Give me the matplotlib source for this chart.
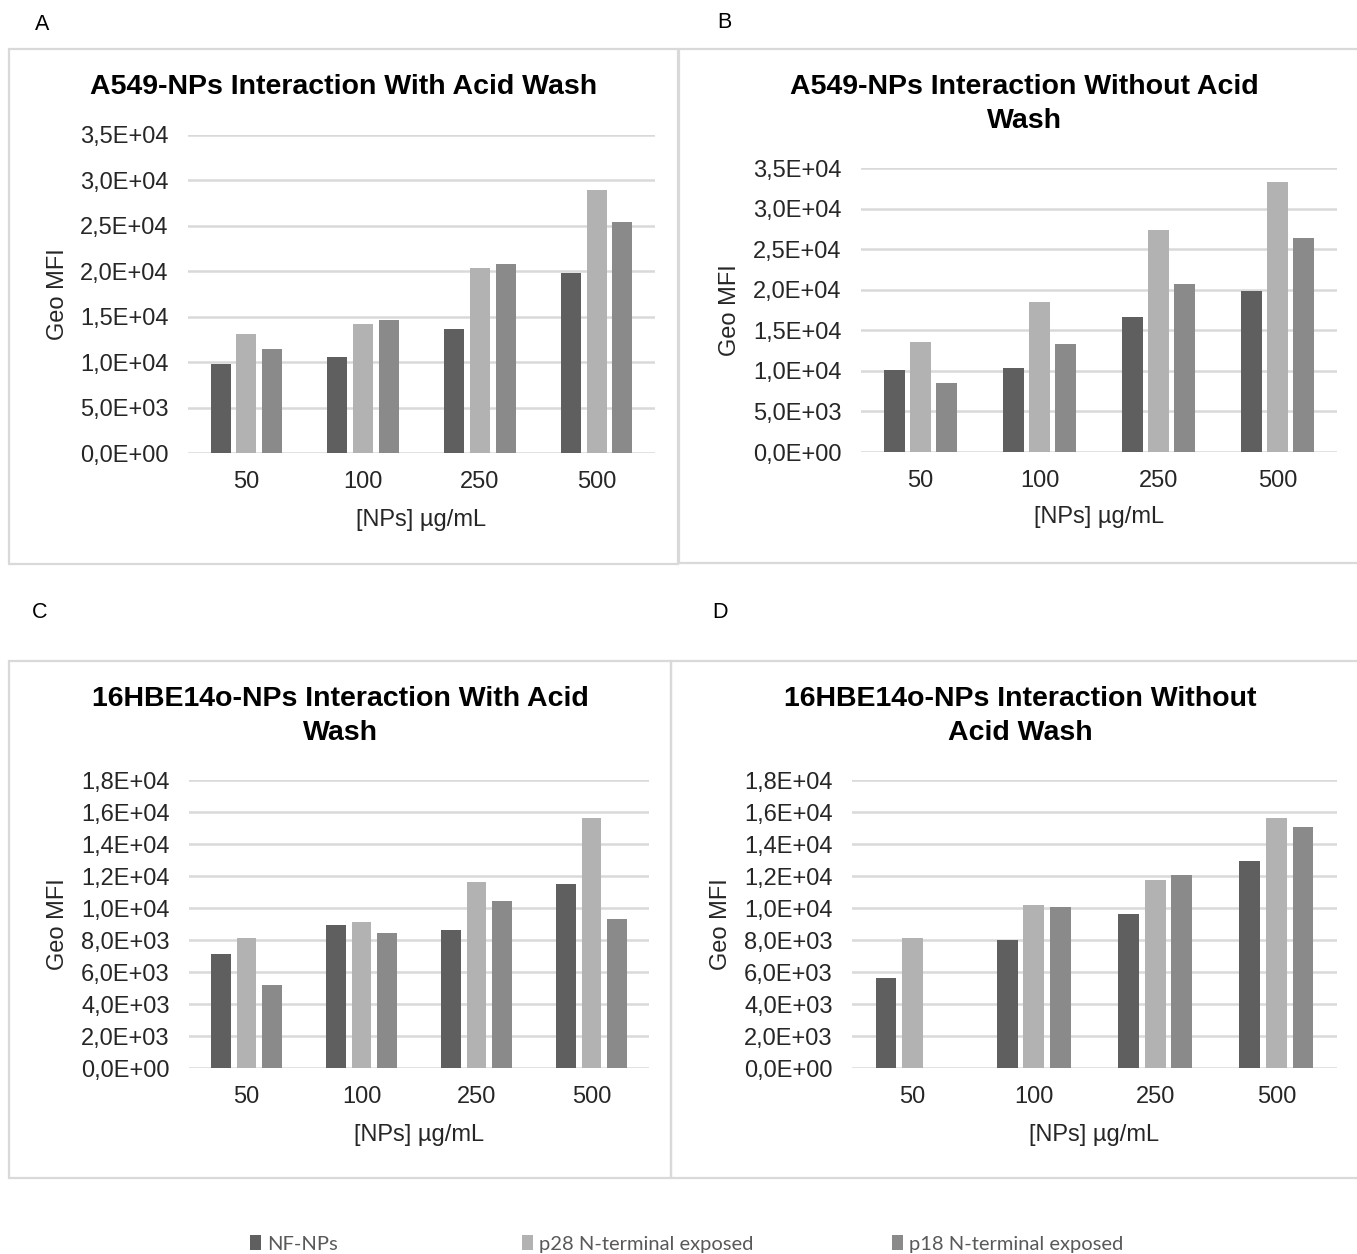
import matplotlib
matplotlib.use("Agg")
import matplotlib.pyplot as plt
from matplotlib.patches import Rectangle
import numpy as np

plt.rcParams['font.family'] = ['Liberation Sans', 'DejaVu Sans']

categories = ["50", "100", "250", "500"]
series_names = ["NF-NPs", "p28 N-terminal exposed", "p18 N-terminal exposed"]
colors = ["#5f5f5f", "#b2b2b2", "#8a8a8a"]

# Panel A: A549 with acid wash
a_nf = [9800, 10600, 13600, 19800]
a_p28 = [13150, 14200, 20400, 29000]
a_p18 = [11450, 14600, 20800, 25400]
# Panel B: A549 without acid wash
b_nf = [10100, 10400, 16600, 19800]
b_p28 = [13600, 18500, 27400, 33300]
b_p18 = [8500, 13300, 20700, 26400]
# Panel C: 16HBE14o with acid wash
c_nf = [7100, 8950, 8600, 11500]
c_p28 = [8150, 9100, 11650, 15600]
c_p18 = [5200, 8450, 10450, 9300]
# Panel D: 16HBE14o without acid wash
d_nf = [5650, 8000, 9600, 12950]
d_p28 = [8150, 10200, 11750, 15600]
d_p18 = [0, 10050, 12050, 15050]

a_ticks = [0, 5000, 10000, 15000, 20000, 25000, 30000, 35000]
a_ticklabels = ["0,0E+00", "5,0E+03", "1,0E+04", "1,5E+04", "2,0E+04", "2,5E+04", "3,0E+04", "3,5E+04"]
c_ticks = [0, 2000, 4000, 6000, 8000, 10000, 12000, 14000, 16000, 18000]
c_ticklabels = ["0,0E+00", "2,0E+03", "4,0E+03", "6,0E+03", "8,0E+03", "1,0E+04",
                "1,2E+04", "1,4E+04", "1,6E+04", "1,8E+04"]

W, H = 1357, 1254
fig = plt.figure(figsize=(W / 100, H / 100), dpi=100)
fig.patch.set_facecolor("white")

GRID = "#d9d9d9"
TXT = "#262626"
FS = 17


def rect(x0, x1, ytop, ybot):
    return [x0 / W, 1 - ybot / H, (x1 - x0) / W, (ybot - ytop) / H]


def frame(x0, x1, ytop, ybot):
    fig.patches.append(Rectangle((x0 / W, 1 - ybot / H), (x1 - x0) / W, (ybot - ytop) / H,
                                 transform=fig.transFigure, fill=False,
                                 edgecolor=GRID, linewidth=1.6, zorder=0))


def panel(box, axbox, title, title_y, series, ticks, ticklabels, ylabel_x, xlabel_y):
    frame(*box)
    ax = fig.add_axes(rect(*axbox))
    x = np.arange(len(categories))
    width = 0.172
    offs = [-0.22, 0.0, 0.22]
    bars = []
    for vals, c, o, n in zip(series, colors, offs, series_names):
        bars.append(ax.bar(x + o, vals, width, color=c, label=n, zorder=3))
    ax.set_xlim(-0.5, 3.5)
    ax.set_ylim(ticks[0], ticks[-1])
    ax.set_yticks(ticks)
    ax.set_yticklabels(ticklabels)
    ax.set_xticks(x)
    ax.set_xticklabels(categories)
    ax.tick_params(axis='both', length=0, labelsize=FS, colors=TXT)
    ax.tick_params(axis='y', pad=14)
    ax.tick_params(axis='x', pad=13)
    for s in ax.spines.values():
        s.set_visible(False)
    ax.yaxis.grid(True, color=GRID, linewidth=1.8, zorder=0)
    ax.set_axisbelow(True)
    ax.patch.set_alpha(0)
    x0, x1, ytop, ybot = axbox
    ax.set_ylabel("Geo MFI", fontsize=FS, color=TXT, va='center')
    ax.yaxis.set_label_coords((ylabel_x - x0) / (x1 - x0), 0.5)
    ax.set_xlabel("[NPs] µg/mL", fontsize=FS, color=TXT, va='center')
    ax.xaxis.set_label_coords(0.5, (ybot - xlabel_y) / (ybot - ytop))
    bx0, bx1 = box[0], box[1]
    fig.text((bx0 + bx1) / 2 / W, 1 - title_y / H, title, ha='center', va='top',
             fontsize=20.5, fontweight='bold', color='black', linespacing=1.38)
    return bars


bars = panel((9, 678, 49, 564), (188, 655, 135, 453),
             "A549-NPs Interaction With Acid Wash", 74,
             [a_nf, a_p28, a_p18], a_ticks, a_ticklabels, 58, 520)
panel((679, 1370, 49, 563), (861, 1337, 168, 452),
      "A549-NPs Interaction Without Acid\nWash", 74,
      [b_nf, b_p28, b_p18], a_ticks, a_ticklabels, 730, 517)
panel((9, 671, 661, 1178), (189, 649, 780, 1068),
      "16HBE14o-NPs Interaction With Acid\nWash", 686,
      [c_nf, c_p28, c_p18], c_ticks, c_ticklabels, 58, 1135)
panel((671, 1370, 661, 1178), (852, 1337, 780, 1068),
      "16HBE14o-NPs Interaction Without\nAcid Wash", 686,
      [d_nf, d_p28, d_p18], c_ticks, c_ticklabels, 721, 1135)

# panel letters
for letter, px, py in [("A", 42, 25), ("B", 724, 22), ("C", 40, 612), ("D", 720, 612)]:
    fig.text(px / W, 1 - py / H, letter, ha='center', va='center', fontsize=15.5, color='black')

# legend entries (three separate entries placed like the original)
for b, n, px in zip(bars, series_names, [250, 522, 892]):
    leg = fig.legend([b], [n], loc='center left', bbox_to_anchor=(px / W, 1 - 1244 / H),
                     frameon=False, handlelength=0.55, handleheight=0.7, handletextpad=0.3,
                     borderpad=0, borderaxespad=0,
                     prop={'family': ['Lato', 'Liberation Sans'], 'size': 14.5})
    for t in leg.get_texts():
        t.set_color("#595959")

fig.savefig("out.png", dpi=100)
